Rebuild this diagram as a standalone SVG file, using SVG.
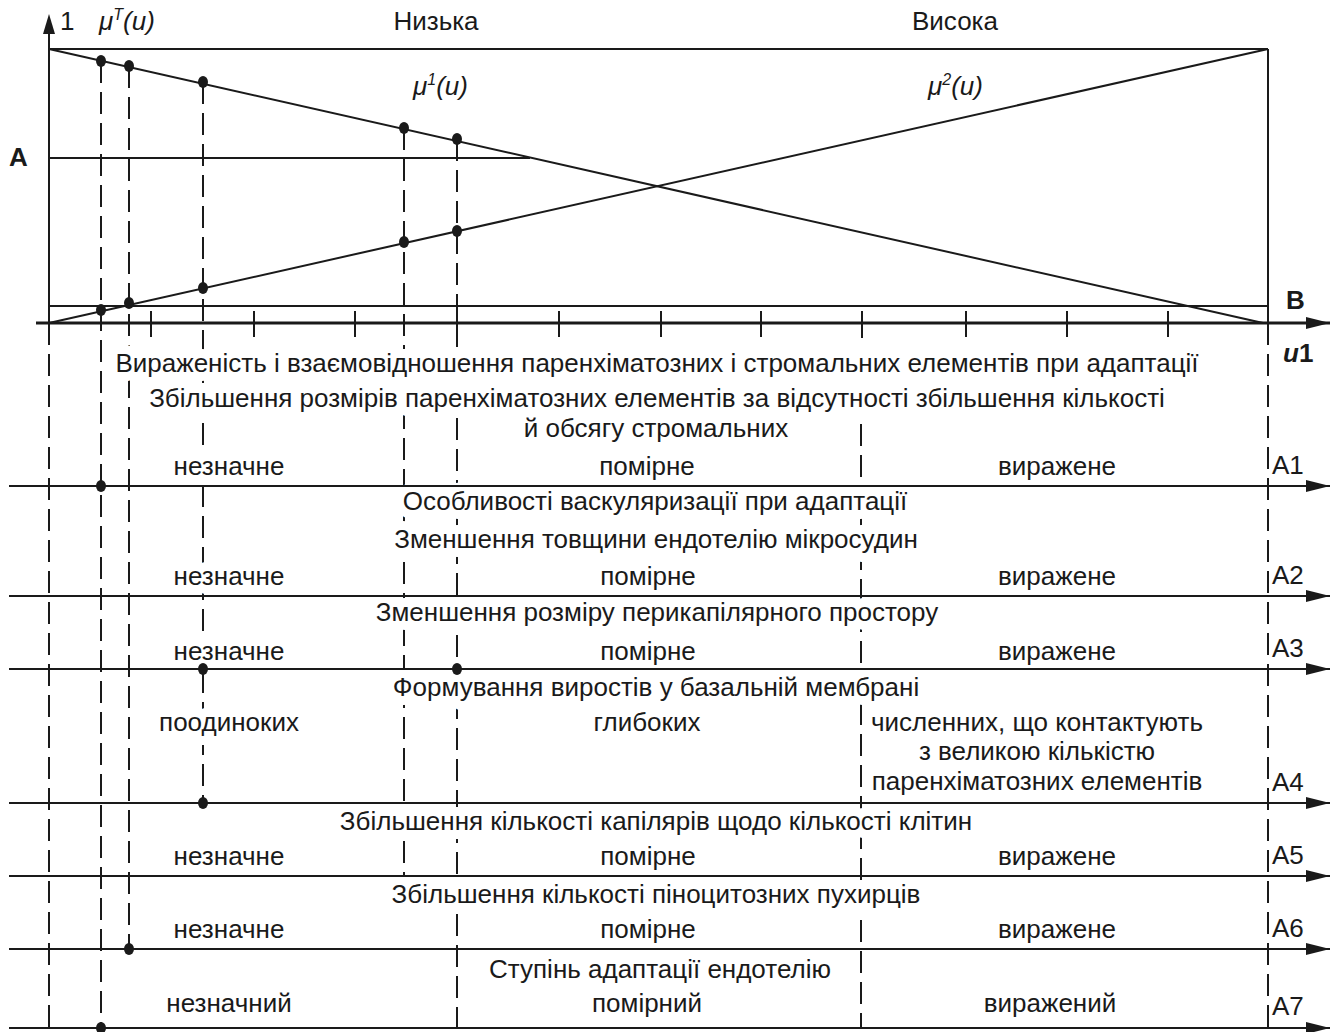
<svg xmlns="http://www.w3.org/2000/svg" width="1337" height="1032" viewBox="0 0 1337 1032">
<defs>
<marker id="arr" markerUnits="userSpaceOnUse" markerWidth="26" markerHeight="14" refX="24" refY="7" orient="auto">
<path d="M0,1 L24,7 L0,13 Z" fill="#1a1a1a"/>
</marker>
<style>
.ln{stroke:#1a1a1a;stroke-width:2;fill:none}
.ax{stroke:#1a1a1a;stroke-width:3;fill:none}
.ds{stroke:#1a1a1a;stroke-width:2;fill:none;stroke-dasharray:22 9}
.t{font-family:"Liberation Sans",Arial,sans-serif;font-size:26px;fill:#1a1a1a}
.h{stroke:#fff;stroke-width:18;paint-order:stroke;stroke-linejoin:round}
.c{text-anchor:middle}
.it{font-style:italic}
.b{font-weight:bold}
.dot{fill:#1a1a1a}
</style>
</defs>
<g id="guides">
<line class="ds" x1="49" y1="323" x2="49" y2="1032"/>
<line class="ds" x1="1268" y1="323" x2="1268" y2="1032"/>
<line class="ds" x1="101" y1="61" x2="101" y2="1028"/>
<line class="ds" x1="129" y1="66" x2="129" y2="949"/>
<line class="ds" x1="203" y1="82" x2="203" y2="803"/>
<line class="ds" x1="404" y1="128" x2="404" y2="876"/>
<line class="ds" x1="457" y1="139" x2="457" y2="1028"/>
<line class="ds" x1="861" y1="424" x2="861" y2="1028"/>
</g>
<g id="graph-labels">
<text class="t" x="60" y="30">1</text>
<text class="t it" x="99" y="30">μ<tspan font-size="16" dy="-10">T</tspan><tspan dy="10">(u)</tspan></text>
<text class="t c" x="436" y="30">Низька</text>
<text class="t c" x="955" y="30">Висока</text>
<text class="t it" x="413" y="95">μ<tspan font-size="16" dy="-10">1</tspan><tspan dy="10">(u)</tspan></text>
<text class="t it" x="928" y="95">μ<tspan font-size="16" dy="-10">2</tspan><tspan dy="10">(u)</tspan></text>
<text class="t b" x="9" y="166">A</text>
<text class="t b" x="1286" y="309">B</text>
<text class="t b" x="1283" y="362"><tspan class="it">u</tspan>1</text>
</g>
<g id="row1">
<text class="t h c" x="657" y="372">Вираженість і взаємовідношення паренхіматозних і стромальних елементів при адаптації</text>
<text class="t h c" x="657" y="407">Збільшення розмірів паренхіматозних елементів за відсутності збільшення кількості</text>
<text class="t h c" x="656" y="437">й обсягу стромальних</text>
<text class="t h c" x="229" y="475">незначне</text>
<text class="t h c" x="647" y="475">помірне</text>
<text class="t h c" x="1057" y="475">виражене</text>
<text class="t" x="1272" y="474">A1</text>
</g>
<g id="row2">
<text class="t h c" x="655" y="510">Особливості васкуляризації при адаптації</text>
<text class="t h c" x="656" y="548">Зменшення товщини ендотелію мікросудин</text>
<text class="t h c" x="229" y="585">незначне</text>
<text class="t h c" x="648" y="585">помірне</text>
<text class="t h c" x="1057" y="585">виражене</text>
<text class="t" x="1272" y="584">A2</text>
</g>
<g id="row3">
<text class="t h c" x="657" y="621">Зменшення розміру перикапілярного простору</text>
<text class="t h c" x="229" y="660">незначне</text>
<text class="t h c" x="648" y="660">помірне</text>
<text class="t h c" x="1057" y="660">виражене</text>
<text class="t" x="1272" y="657">A3</text>
</g>
<g id="row4">
<text class="t h c" x="656" y="696">Формування виростів у базальній мембрані</text>
<text class="t h c" x="229" y="731">поодиноких</text>
<text class="t h c" x="647" y="731">глибоких</text>
<text class="t h c" x="1037" y="731">численних, що контактують</text>
<text class="t h c" x="1037" y="760">з великою кількістю</text>
<text class="t h c" x="1037" y="790">паренхіматозних елементів</text>
<text class="t" x="1272" y="791">A4</text>
</g>
<g id="row5">
<text class="t h c" x="656" y="830">Збільшення кількості капілярів щодо кількості клітин</text>
<text class="t h c" x="229" y="865">незначне</text>
<text class="t h c" x="648" y="865">помірне</text>
<text class="t h c" x="1057" y="865">виражене</text>
<text class="t" x="1272" y="864">A5</text>
</g>
<g id="row6">
<text class="t h c" x="656" y="903">Збільшення кількості піноцитозних пухирців</text>
<text class="t h c" x="229" y="938">незначне</text>
<text class="t h c" x="648" y="938">помірне</text>
<text class="t h c" x="1057" y="938">виражене</text>
<text class="t" x="1272" y="937">A6</text>
</g>
<g id="row7">
<text class="t h c" x="660" y="978">Ступінь адаптації ендотелію</text>
<text class="t h c" x="229" y="1012">незначний</text>
<text class="t h c" x="647" y="1012">помірний</text>
<text class="t h c" x="1050" y="1012">виражений</text>
<text class="t" x="1272" y="1015">A7</text>
</g>
<g id="connectors">
<line class="ln" x1="49" y1="49" x2="1268" y2="49"/>
<line class="ln" x1="1268" y1="49" x2="1268" y2="323"/>
<line class="ln" x1="49" y1="158" x2="530" y2="158"/>
<line class="ln" x1="49" y1="306" x2="1268" y2="306"/>
<line class="ln" x1="49" y1="49" x2="1263" y2="323"/>
<line class="ln" x1="49" y1="323" x2="1268" y2="49"/>
<line class="ln" x1="49" y1="323" x2="49" y2="30"/>
<path d="M43,34 L49,14 L55,34 Z" fill="#1a1a1a"/>
<line class="ax" x1="36" y1="323" x2="1330" y2="323" marker-end="url(#arr)"/>
<g class="ln">
<line x1="151" y1="311" x2="151" y2="337"/>
<line x1="254" y1="311" x2="254" y2="337"/>
<line x1="355" y1="311" x2="355" y2="337"/>
<line x1="457" y1="311" x2="457" y2="337"/>
<line x1="559" y1="311" x2="559" y2="337"/>
<line x1="661" y1="311" x2="661" y2="337"/>
<line x1="761" y1="311" x2="761" y2="337"/>
<line x1="862" y1="311" x2="862" y2="338"/>
<line x1="966" y1="311" x2="966" y2="337"/>
<line x1="1067" y1="311" x2="1067" y2="337"/>
<line x1="1168" y1="311" x2="1168" y2="337"/>
</g>
<line class="ln" x1="9" y1="486" x2="1330" y2="486" marker-end="url(#arr)"/>
<line class="ln" x1="9" y1="596" x2="1330" y2="596" marker-end="url(#arr)"/>
<line class="ln" x1="9" y1="669" x2="1330" y2="669" marker-end="url(#arr)"/>
<line class="ln" x1="9" y1="803" x2="1330" y2="803" marker-end="url(#arr)"/>
<line class="ln" x1="9" y1="876" x2="1330" y2="876" marker-end="url(#arr)"/>
<line class="ln" x1="9" y1="949" x2="1330" y2="949" marker-end="url(#arr)"/>
<line class="ln" x1="9" y1="1028" x2="1330" y2="1028" marker-end="url(#arr)"/>
</g>
<g id="points">
<ellipse class="dot" cx="101" cy="61" rx="5" ry="6"/>
<ellipse class="dot" cx="129" cy="66" rx="5" ry="6"/>
<ellipse class="dot" cx="203" cy="82" rx="5" ry="6"/>
<ellipse class="dot" cx="404" cy="128" rx="5" ry="6"/>
<ellipse class="dot" cx="457" cy="139" rx="5" ry="6"/>
<ellipse class="dot" cx="101" cy="310" rx="5" ry="6"/>
<ellipse class="dot" cx="129" cy="303" rx="5" ry="6"/>
<ellipse class="dot" cx="203" cy="288" rx="5" ry="6"/>
<ellipse class="dot" cx="404" cy="242" rx="5" ry="6"/>
<ellipse class="dot" cx="457" cy="231" rx="5" ry="6"/>
<ellipse class="dot" cx="101" cy="486" rx="5" ry="6"/>
<ellipse class="dot" cx="203" cy="669" rx="5" ry="6"/>
<ellipse class="dot" cx="457" cy="669" rx="5" ry="6"/>
<ellipse class="dot" cx="203" cy="803" rx="5" ry="6"/>
<ellipse class="dot" cx="129" cy="949" rx="5" ry="6"/>
<ellipse class="dot" cx="101" cy="1028" rx="5" ry="6"/>
</g>
</svg>
